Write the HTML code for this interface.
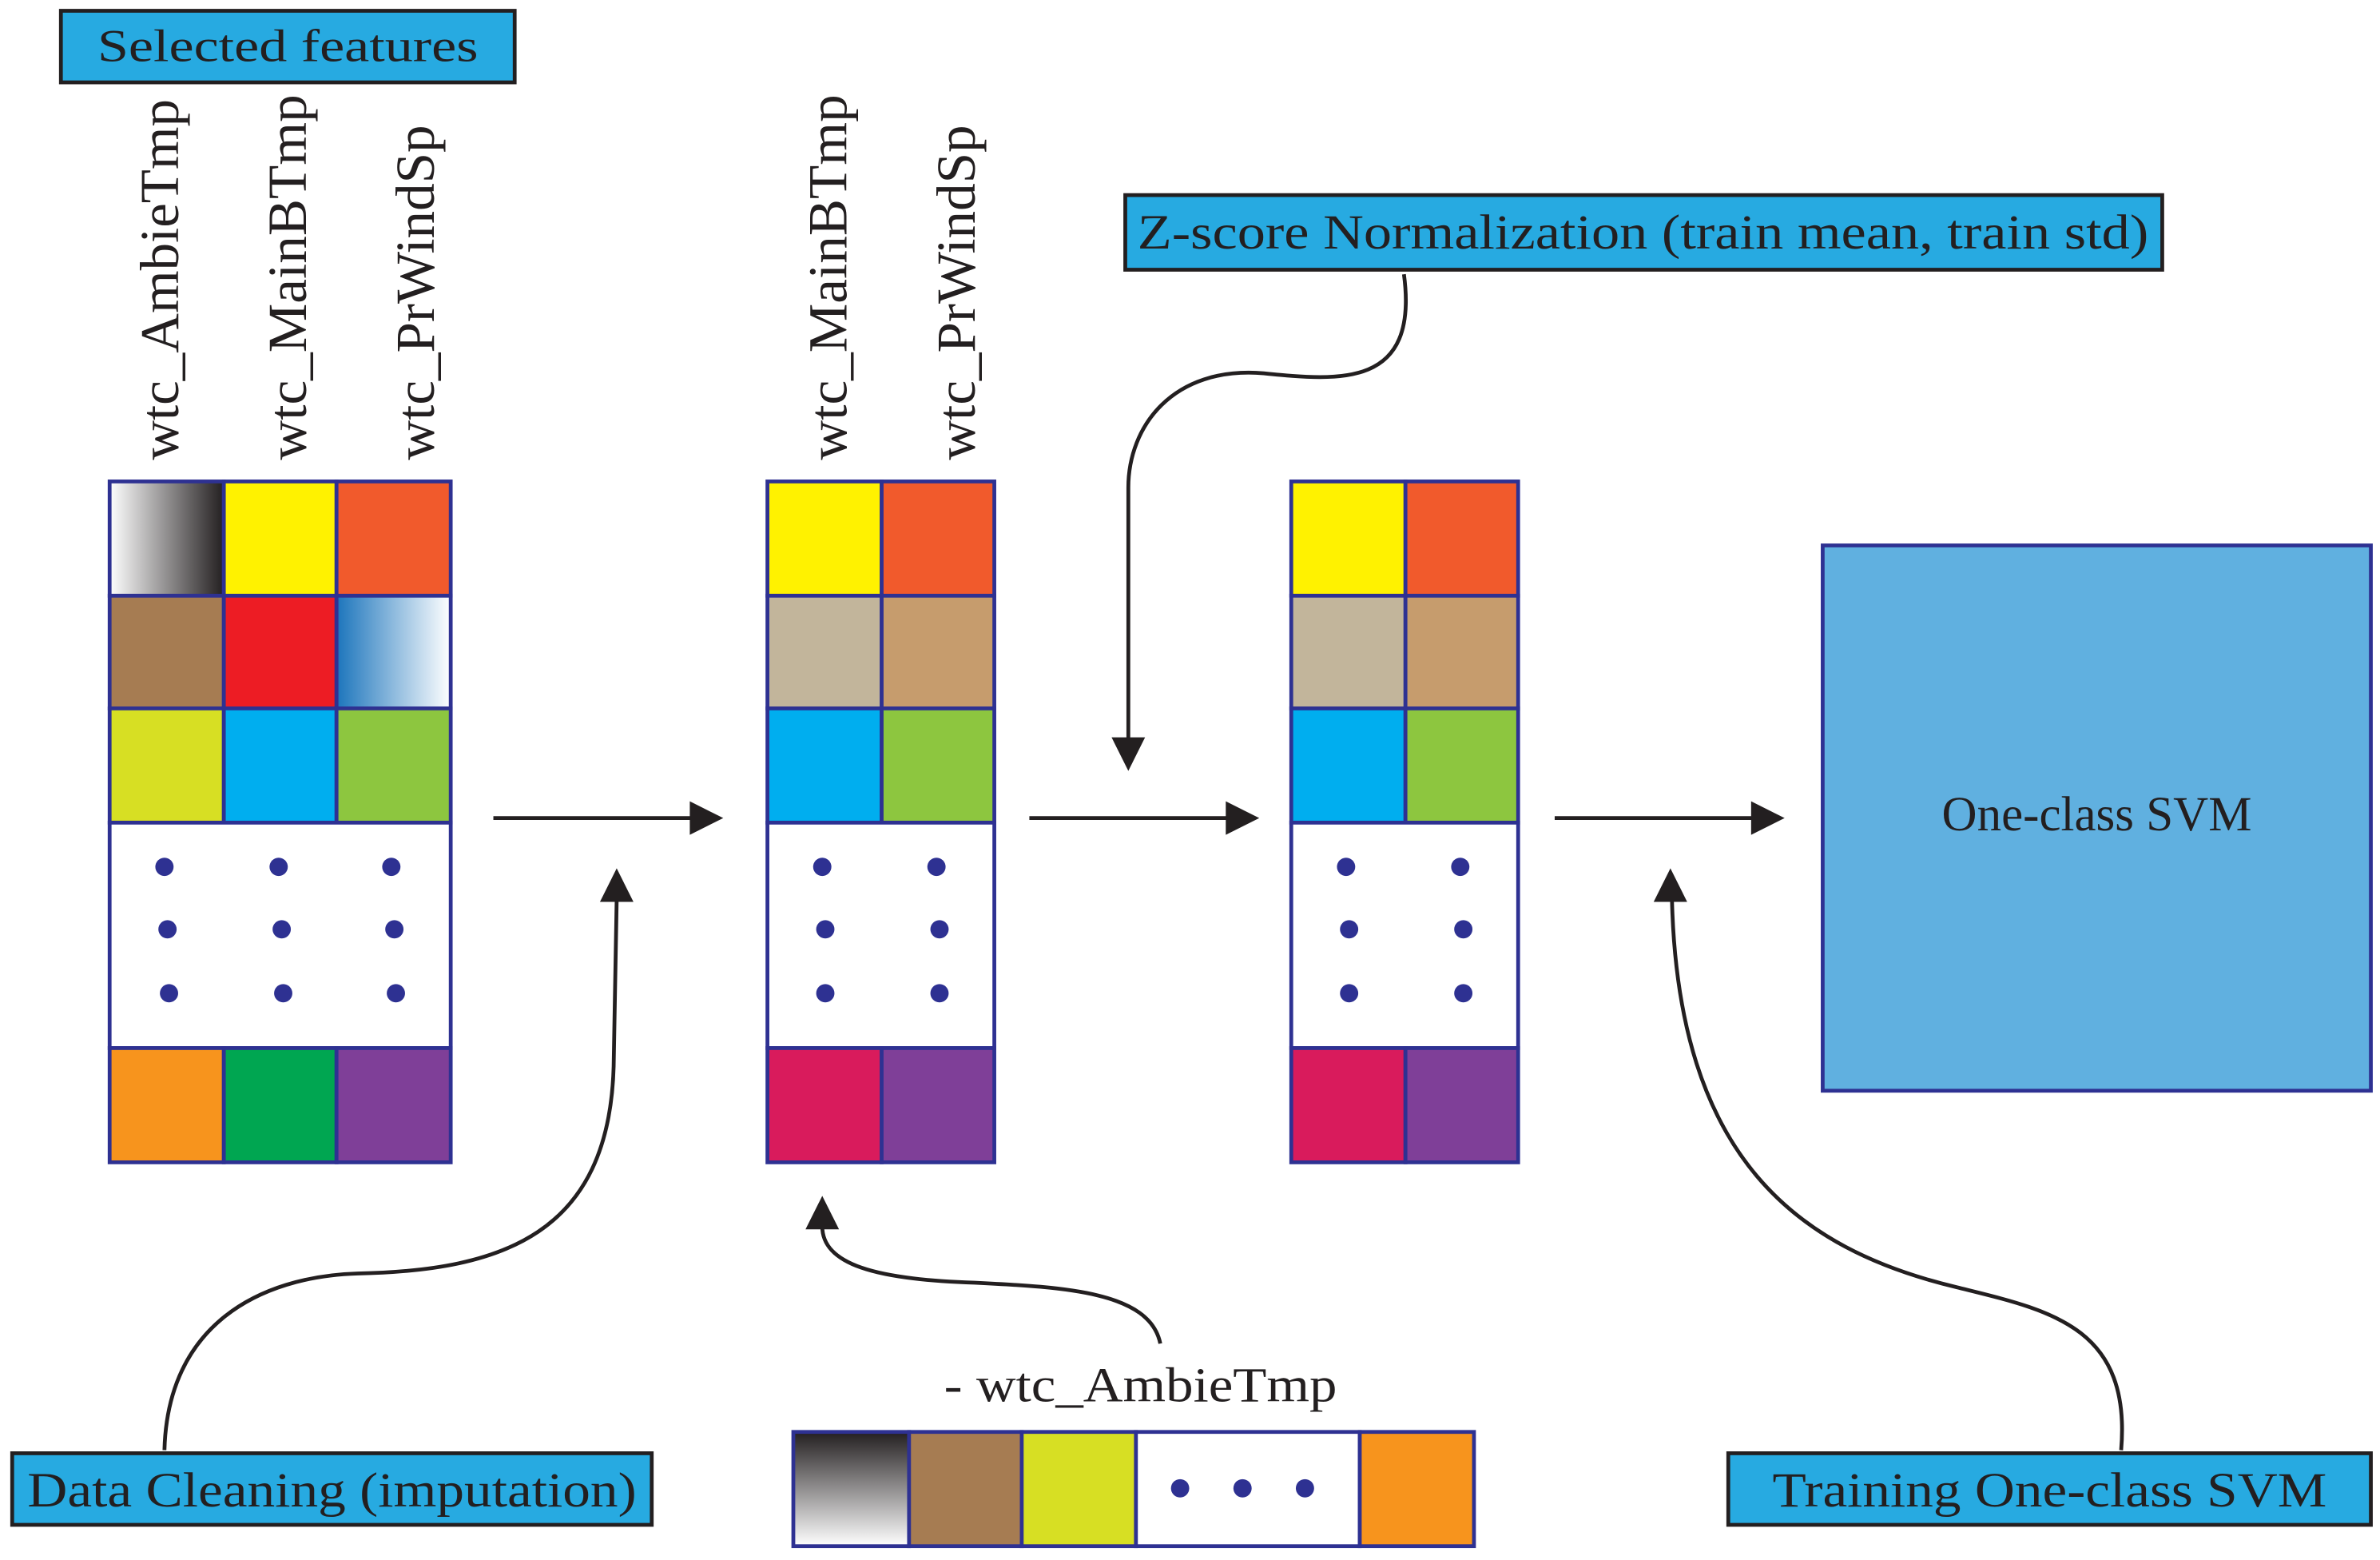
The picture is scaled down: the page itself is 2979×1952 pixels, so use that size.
<!DOCTYPE html>
<html><head><meta charset="utf-8"><style>html,body{margin:0;padding:0;background:#fff}svg{display:block}</style></head>
<body>
<svg width="2979" height="1952" viewBox="0 0 1563 1024" xmlns="http://www.w3.org/2000/svg" font-family="'Liberation Serif', serif">
<defs>
<linearGradient id="gk" x1="0" y1="0" x2="1" y2="0"><stop offset="0" stop-color="#fff"/><stop offset="1" stop-color="#231f20"/></linearGradient>
<linearGradient id="gb" x1="0" y1="0" x2="1" y2="0"><stop offset="0" stop-color="#1c75bc"/><stop offset="1" stop-color="#fff"/></linearGradient>
<linearGradient id="gv" x1="0" y1="0" x2="0" y2="1"><stop offset="0" stop-color="#231f20"/><stop offset="1" stop-color="#fff"/></linearGradient>
</defs>
<!-- Selected features -->
<rect x="40" y="7" width="298" height="47" fill="#27aae1" stroke="#231f20" stroke-width="2.5"/>
<text x="189" y="40" font-size="30" text-anchor="middle" textLength="250" lengthAdjust="spacingAndGlyphs" fill="#231f20">Selected features</text>
<g font-size="36" fill="#231f20">
<text transform="translate(117,302) rotate(-90)" textLength="237" lengthAdjust="spacingAndGlyphs">wtc_AmbieTmp</text>
<text transform="translate(201,302) rotate(-90)" textLength="240" lengthAdjust="spacingAndGlyphs">wtc_MainBTmp</text>
<text transform="translate(285,302) rotate(-90)" textLength="220" lengthAdjust="spacingAndGlyphs">wtc_PrWindSp</text>
<text transform="translate(556,302) rotate(-90)" textLength="240" lengthAdjust="spacingAndGlyphs">wtc_MainBTmp</text>
<text transform="translate(640,302) rotate(-90)" textLength="220" lengthAdjust="spacingAndGlyphs">wtc_PrWindSp</text>
</g>
<g stroke="#2e3192" stroke-width="2.5">
<!-- grid 1 -->
<rect x="72" y="316" width="75" height="75" fill="url(#gk)"/>
<rect x="147" y="316" width="74" height="75" fill="#fff200"/>
<rect x="221" y="316" width="75" height="75" fill="#f15a2c"/>
<rect x="72" y="391" width="75" height="74" fill="#a67c52"/>
<rect x="147" y="391" width="74" height="74" fill="#ed1c24"/>
<rect x="221" y="391" width="75" height="74" fill="url(#gb)"/>
<rect x="72" y="465" width="75" height="75" fill="#d7df23"/>
<rect x="147" y="465" width="74" height="75" fill="#00aeef"/>
<rect x="221" y="465" width="75" height="75" fill="#8dc63f"/>
<rect x="72" y="540" width="224" height="148" fill="#fff"/>
<rect x="72" y="688" width="75" height="75" fill="#f7941d"/>
<rect x="147" y="688" width="74" height="75" fill="#00a651"/>
<rect x="221" y="688" width="75" height="75" fill="#7f3f98"/>
<!-- grid 2 -->
<rect x="504" y="316" width="75" height="75" fill="#fff200"/>
<rect x="579" y="316" width="74" height="75" fill="#f15a2c"/>
<rect x="504" y="391" width="75" height="74" fill="#c2b59b"/>
<rect x="579" y="391" width="74" height="74" fill="#c69c6d"/>
<rect x="504" y="465" width="75" height="75" fill="#00aeef"/>
<rect x="579" y="465" width="74" height="75" fill="#8dc63f"/>
<rect x="504" y="540" width="149" height="148" fill="#fff"/>
<rect x="504" y="688" width="75" height="75" fill="#d91b5c"/>
<rect x="579" y="688" width="74" height="75" fill="#7f3f98"/>
<!-- grid 3 -->
<rect x="848" y="316" width="75" height="75" fill="#fff200"/>
<rect x="923" y="316" width="74" height="75" fill="#f15a2c"/>
<rect x="848" y="391" width="75" height="74" fill="#c2b59b"/>
<rect x="923" y="391" width="74" height="74" fill="#c69c6d"/>
<rect x="848" y="465" width="75" height="75" fill="#00aeef"/>
<rect x="923" y="465" width="74" height="75" fill="#8dc63f"/>
<rect x="848" y="540" width="149" height="148" fill="#fff"/>
<rect x="848" y="688" width="75" height="75" fill="#d91b5c"/>
<rect x="923" y="688" width="74" height="75" fill="#7f3f98"/>
<!-- bottom row -->
<rect x="521" y="940" width="76" height="75" fill="url(#gv)"/>
<rect x="597" y="940" width="74" height="75" fill="#a67c52"/>
<rect x="671" y="940" width="75" height="75" fill="#d7df23"/>
<rect x="746" y="940" width="147" height="75" fill="#fff"/>
<rect x="893" y="940" width="75" height="75" fill="#f7941d"/>
<!-- SVM -->
<rect x="1197" y="358" width="360" height="358" fill="#60b0e0"/>
</g>
<g fill="#2e3192">
<circle cx="108" cy="569" r="6"/><circle cx="183" cy="569" r="6"/><circle cx="257" cy="569" r="6"/>
<circle cx="110" cy="610" r="6"/><circle cx="185" cy="610" r="6"/><circle cx="259" cy="610" r="6"/>
<circle cx="111" cy="652" r="6"/><circle cx="186" cy="652" r="6"/><circle cx="260" cy="652" r="6"/>
<circle cx="540" cy="569" r="6"/><circle cx="615" cy="569" r="6"/>
<circle cx="542" cy="610" r="6"/><circle cx="617" cy="610" r="6"/>
<circle cx="542" cy="652" r="6"/><circle cx="617" cy="652" r="6"/>
<circle cx="884" cy="569" r="6"/><circle cx="959" cy="569" r="6"/>
<circle cx="886" cy="610" r="6"/><circle cx="961" cy="610" r="6"/>
<circle cx="886" cy="652" r="6"/><circle cx="961" cy="652" r="6"/>
<circle cx="775" cy="977" r="6"/><circle cx="816" cy="977" r="6"/><circle cx="857" cy="977" r="6"/>
</g>
<text x="1377" y="545" font-size="32" text-anchor="middle" fill="#231f20">One-class SVM</text>
<!-- Z-score -->
<rect x="739" y="128" width="681" height="49" fill="#27aae1" stroke="#231f20" stroke-width="2.5"/>
<text x="1079" y="163" font-size="32" text-anchor="middle" textLength="664" lengthAdjust="spacingAndGlyphs" fill="#231f20">Z-score Normalization (train mean, train std)</text>
<!-- Data cleaning -->
<rect x="8" y="954" width="420" height="47" fill="#27aae1" stroke="#231f20" stroke-width="2.5"/>
<text x="218" y="989" font-size="32" text-anchor="middle" textLength="400" lengthAdjust="spacingAndGlyphs" fill="#231f20">Data Cleaning (imputation)</text>
<!-- Training -->
<rect x="1135" y="954" width="422" height="47" fill="#27aae1" stroke="#231f20" stroke-width="2.5"/>
<text x="1346" y="989" font-size="32" text-anchor="middle" textLength="364" lengthAdjust="spacingAndGlyphs" fill="#231f20">Training One-class SVM</text>
<text x="749" y="920" font-size="32" text-anchor="middle" textLength="258" lengthAdjust="spacingAndGlyphs" fill="#231f20">- wtc_AmbieTmp</text>
<!-- connectors -->
<g stroke="#231f20" stroke-width="2.5" fill="none">
<line x1="324" y1="537" x2="456" y2="537"/>
<line x1="676" y1="537" x2="808" y2="537"/>
<line x1="1021" y1="537" x2="1153" y2="537"/>
<path d="M922,180 C932,255 880,250 830,245 C770,240 741,280 741,320 L741,487"/>
<path d="M108,952 C110,870 170,838 235,836 C330,834 400,810 403,700 L405,590"/>
<path d="M1393,952 C1400,870 1345,860 1285,845 C1180,820 1102,760 1098,590"/>
<path d="M762,882 C755,848 700,845 640,842 C575,840 540,830 540,805"/>
</g>
<g fill="#231f20">
<polygon points="475,537 453,526 453,548"/>
<polygon points="827,537 805,526 805,548"/>
<polygon points="1172,537 1150,526 1150,548"/>
<polygon points="741,506 730,484 752,484"/>
<polygon points="405,570 394,592 416,592"/>
<polygon points="1097,570 1086,592 1108,592"/>
<polygon points="540,785 529,807 551,807"/>
</g>
</svg>
</body></html>
